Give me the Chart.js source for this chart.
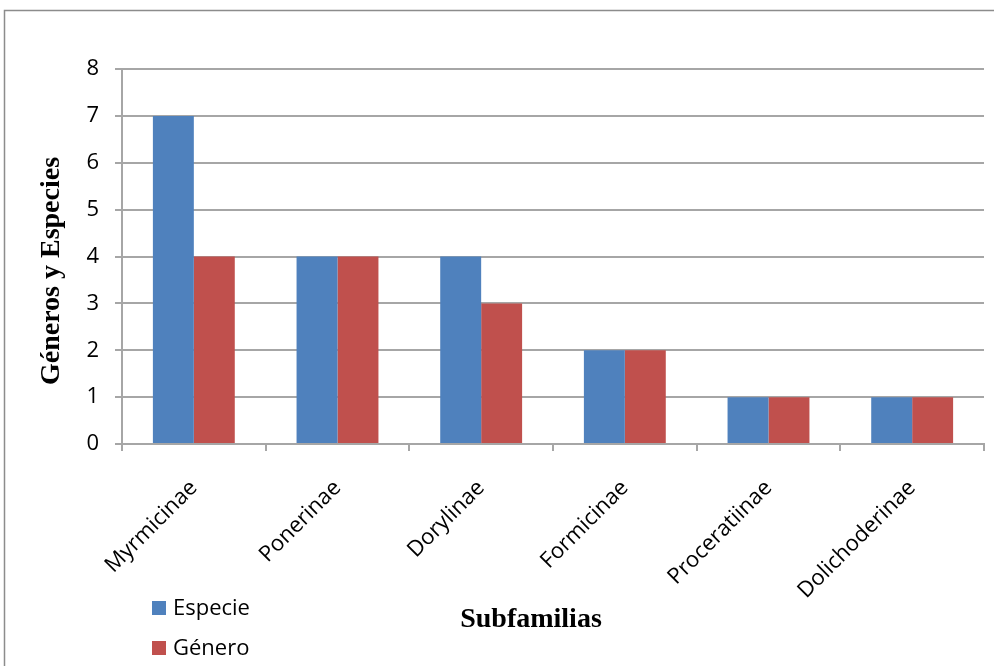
<!DOCTYPE html>
<html>
<head>
<meta charset="utf-8">
<script src="https://cdn.jsdelivr.net/npm/chart.js@4.4.1/dist/chart.umd.min.js"></script>
<style>
  html, body { margin: 0; padding: 0; background: #fff; }
  #wrap { width: 994px; height: 666px; }
</style>
</head>
<body>
<div id="wrap"><canvas id="chart" width="994" height="666"></canvas></div>
<script>
const subfamilias = ["Myrmicinae", "Ponerinae", "Dorylinae", "Formicinae", "Proceratiinae", "Dolichoderinae"];
const especie = [7, 4, 4, 2, 1, 1];
const genero = [4, 4, 3, 2, 1, 1];
const yTitle = "Géneros y Especies";
const xTitle = "Subfamilias";

const GRID = "#a6a6a6";
const LABEL_FONT = "'Open Sans', 'Noto Sans', sans-serif";
const TITLE_FONT = "bold 28px 'Liberation Serif', 'Times New Roman', serif";

// outer frame around the whole figure
const framePlugin = {
    id: "frame",
    beforeDraw(chart) {
        const ctx = chart.ctx;
        ctx.save();
        ctx.fillStyle = "#fff";
        ctx.fillRect(0, 0, chart.width, chart.height);
        ctx.strokeStyle = "#8c8c8c";
        ctx.lineWidth = 1.5;
        ctx.strokeRect(4.5, 10.5, chart.width + 10, chart.height + 10);
        ctx.restore();
    }
};

// axis titles placed freely, like the office chart they come from
const axisTitles = {
    id: "axisTitles",
    afterDraw(chart) {
        const ctx = chart.ctx;
        ctx.save();
        ctx.font = TITLE_FONT;
        ctx.fillStyle = "#000";
        ctx.textAlign = "center";
        ctx.textBaseline = "middle";
        ctx.fillText(xTitle, 531, 620);
        ctx.translate(52, 271);
        ctx.rotate(-Math.PI / 2);
        ctx.fillText(yTitle, 0, 0);
        ctx.restore();
    }
};

// stacked legend at the lower left
const stackedLegend = {
    id: "stackedLegend",
    afterDraw(chart) {
        const ctx = chart.ctx;
        ctx.save();
        ctx.font = "22px " + LABEL_FONT;
        ctx.textBaseline = "middle";
        chart.data.datasets.forEach((ds, i) => {
            const y = 608 + i * 40;
            ctx.fillStyle = ds.backgroundColor;
            ctx.fillRect(152, y - 7, 14, 14);
            ctx.fillStyle = "#000";
            ctx.fillText(ds.label, 173, y + 1);
        });
        ctx.restore();
    }
};

new Chart(document.getElementById("chart"), {
    type: "bar",
    data: {
        labels: subfamilias,
        datasets: [
            {label: "Especie", data: especie, backgroundColor: "#4F81BD"},
            {label: "Género", data: genero, backgroundColor: "#C0504D"},
        ]
    },
    options: {
        responsive: false,
        animation: false,
        devicePixelRatio: 1,
        layout: {padding: {top: 69, right: 10, left: 0, bottom: 0}},
        datasets: {bar: {categoryPercentage: 0.57, barPercentage: 1.0}},
        plugins: {
            legend: {display: false},
            tooltip: {enabled: false}
        },
        scales: {
            x: {
                afterFit: scale => { scale.height = 222; },
                grid: {
                    offset: true,
                    drawOnChartArea: false,
                    drawTicks: true,
                    tickLength: 7,
                    color: GRID,
                    lineWidth: 2
                },
                border: {color: GRID, width: 2},
                ticks: {
                    color: "#000",
                    font: {family: LABEL_FONT, size: 22},
                    minRotation: 45,
                    maxRotation: 45,
                    padding: 24
                }
            },
            y: {
                min: 0,
                max: 8,
                afterFit: scale => { scale.width = 122; },
                grid: {
                    color: GRID,
                    lineWidth: 2,
                    tickLength: 7
                },
                border: {color: GRID, width: 2},
                ticks: {
                    stepSize: 1,
                    color: "#000",
                    font: {family: LABEL_FONT, size: 22},
                    padding: 16
                }
            }
        }
    },
    plugins: [framePlugin, axisTitles, stackedLegend]
});
</script>
</body>
</html>
